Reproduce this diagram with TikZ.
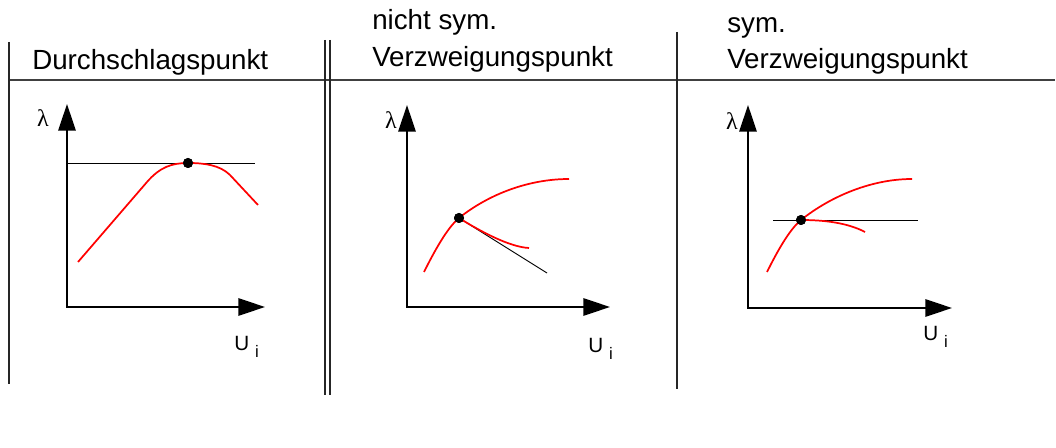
\documentclass[tikz,border=0pt]{standalone}
\usepackage{fontspec}
\setmainfont{Liberation Sans}
\newfontfamily\greekfont{Liberation Serif}
\usetikzlibrary{arrows.meta}
\begin{document}
\begin{tikzpicture}[x=0.75pt,y=-0.75pt,
  sepline/.style={line width=1.4pt,draw=black!75},
  vline/.style={line width=1.1pt,draw=black!85},
  axis/.style={line width=1.5pt,{Triangle[length=20pt,width=13pt]}-{Triangle[length=20pt,width=13pt]}},
  rcurve/.style={draw=red,line width=1.3pt},
  tline/.style={draw=black,line width=0.7pt},
  bpoint/.style={circle,fill=black,inner sep=0pt,minimum size=7.5pt},
  head/.style={anchor=base west,inner sep=0pt,font=\fontsize{20.8}{24}\selectfont},
  lam/.style={inner sep=0pt,font=\greekfont\fontsize{18}{20}\selectfont},
  ui/.style={anchor=base west,inner sep=0pt,font=\fontsize{15.5}{18}\selectfont}]
\useasboundingbox (0,0) rectangle (1056,448);

% separators
\coordinate (hl) at (10,80);
\coordinate (hr) at (1055,80);
\draw[sepline] (hl) -- (hr);
\coordinate (v1t) at (9,42);
\coordinate (v1b) at (9,384);
\draw[vline] (v1t) -- (v1b);
\coordinate (v2at) at (325,40);
\coordinate (v2ab) at (325,395);
\coordinate (v2bt) at (330,40);
\coordinate (v2bb) at (330,395);
\draw[vline] (v2at) -- (v2ab);
\draw[vline] (v2bt) -- (v2bb);
\coordinate (v3t) at (677,32);
\coordinate (v3b) at (677,389);
\draw[vline] (v3t) -- (v3b);

% headings
\node[head] (h1) at (32,70) {Durchschlagspunkt};
\node[head] (h2a) at (372,30) {nicht sym.};
\node[head] (h2b) at (372,67) {Verzweigungspunkt};
\node[head] (h3a) at (727,33) {sym.};
\node[head] (h3b) at (727,69) {Verzweigungspunkt};

% ---------- panel 1 ----------
\coordinate (o1) at (67,307);
\coordinate (y1) at (67,104);
\coordinate (x1) at (265,307);
\draw[axis] (y1) -- (o1) -- (x1);
\node[lam] (l1) at (43,118) {λ};
\node[ui] (u1) at (234,351) {U\hspace{4.5pt}\raisebox{-5pt}{\fontsize{12.5}{14}\selectfont i}};
\coordinate (t1a) at (67,163);
\coordinate (t1b) at (255,163);
\draw[tline] (t1a) -- (t1b);
\coordinate (c1a) at (78,262);
\coordinate (c1b) at (147,182);
\coordinate (c1d) at (230,175);
\coordinate (c1e) at (258,205);
\node[bpoint] (p1) at (188,163) {};
\draw[rcurve] (c1a) -- (c1b) .. controls (160,167) and (172,163) .. (p1.center)
  .. controls (204,163) and (220,165) .. (c1d) -- (c1e);
\node[bpoint] at (p1) {};

% ---------- panel 2 ----------
\coordinate (o2) at (407,307);
\coordinate (y2) at (407,105);
\coordinate (x2) at (610,307);
\draw[axis] (y2) -- (o2) -- (x2);
\node[lam] (l2) at (391,120) {λ};
\node[ui] (u2) at (588,353) {U\hspace{4.5pt}\raisebox{-5pt}{\fontsize{12.5}{14}\selectfont i}};
\node[bpoint] (p2) at (459,218) {};
\coordinate (c2a) at (424,272);
\coordinate (c2b) at (569,179);
\coordinate (c2c) at (529,248);
\coordinate (t2) at (547,273);
\draw[tline] (p2.center) -- (t2);
\draw[rcurve] (c2a) .. controls (434,252) and (447,228) .. (p2.center)
  .. controls (489,194) and (529,179) .. (c2b);
\draw[rcurve] (p2.center) .. controls (479,230.5) and (509,247) .. (c2c);
\node[bpoint] at (p2) {};

% ---------- panel 3 ----------
\coordinate (o3) at (748,308);
\coordinate (y3) at (748,105);
\coordinate (x3) at (952,308);
\draw[axis] (y3) -- (o3) -- (x3);
\node[lam] (l3) at (732,121) {λ};
\node[ui] (u3) at (923,341) {U\hspace{4.5pt}\raisebox{-5pt}{\fontsize{12.5}{14}\selectfont i}};
\node[bpoint] (p3) at (801,220) {};
\coordinate (t3a) at (773,220);
\coordinate (t3b) at (918,220);
\draw[tline] (t3a) -- (t3b);
\coordinate (c3a) at (767,272);
\coordinate (c3b) at (912,179);
\coordinate (c3c) at (865,232);
\draw[rcurve] (c3a) .. controls (777,252) and (789,230) .. (p3.center)
  .. controls (831,196) and (872,179) .. (c3b);
\draw[rcurve] (p3.center) .. controls (825,220) and (848,223) .. (c3c);
\node[bpoint] at (p3) {};
\end{tikzpicture}
\end{document}
